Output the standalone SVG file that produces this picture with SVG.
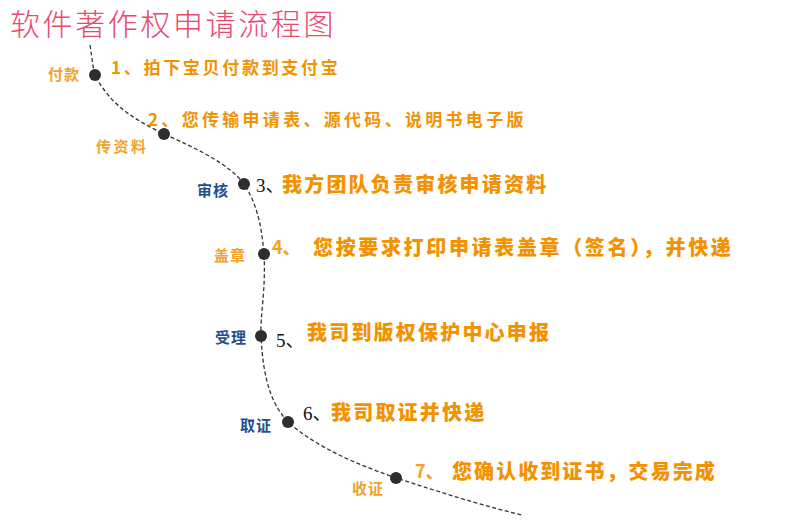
<svg xmlns="http://www.w3.org/2000/svg" width="790" height="520" viewBox="0 0 790 520">
<style>
.title{font-family:"Noto Sans CJK SC","Noto Sans",sans-serif;font-weight:300;font-size:30px;fill:#e84a6c;letter-spacing:2.6px}
.lo{font-family:"Noto Sans CJK SC",sans-serif;font-weight:700;font-size:15px;fill:#f2a22a;letter-spacing:1px}
.lb{font-family:"Noto Sans CJK SC",sans-serif;font-weight:700;font-size:15px;fill:#1f4f8e;letter-spacing:1px}
.s{font-family:"Noto Sans CJK SC",sans-serif;font-weight:700;font-size:17px;fill:#f39200;letter-spacing:2.9px}
.m{font-family:"Noto Sans CJK SC",sans-serif;font-weight:800;font-size:20px;fill:#f39200;letter-spacing:2.2px}
.n{font-family:"Liberation Serif","Noto Sans CJK SC",serif;font-size:19px;fill:#111}
.no{font-family:"Noto Sans CJK SC",sans-serif;font-weight:700;font-size:18px;fill:#f4a020}
.dot{fill:#2e2e2e}
.path{fill:none;stroke:#333;stroke-width:1.3;stroke-dasharray:4 2.5}
</style>
<rect width="790" height="520" fill="#fff"/>
<text class="title" x="10" y="35">软件著作权申请流程图</text>
<g id="connectors">
<path class="path" d="M90,45 C92,58 93,68 95,75 C110,105 135,120 164,134 C200,150 230,165 244,184 C258,205 262,230 264,254 C266,290 260,315 261,336 C263,380 272,405 288,422 C320,450 360,465 396,478 C440,492 480,505 522,515"/>
</g>
<g id="step1">
<circle class="dot" cx="95" cy="75" r="6"/>
<text class="lo" x="48" y="80">付款</text>
<text class="s" x="111" y="74" style="letter-spacing:2.7px">1、拍下宝贝付款到支付宝</text>
</g>
<g id="step2">
<circle class="dot" cx="164" cy="134" r="6"/>
<text class="lo" x="96" y="152" style="letter-spacing:2.5px">传资料</text>
<text class="s" x="148" y="126" style="letter-spacing:3.3px">2、您传输申请表、源代码、说明书电子版</text>
</g>
<g id="step3">
<circle class="dot" cx="244" cy="184" r="6"/>
<text class="lb" x="197" y="196">审核</text>
<text class="n" x="256" y="192">3、</text>
<text class="m" x="282" y="192">我方团队负责审核申请资料</text>
</g>
<g id="step4">
<circle class="dot" cx="264" cy="254" r="6"/>
<text class="lo" x="214" y="261">盖章</text>
<text class="no" x="272" y="254">4、</text>
<text class="m" x="313" y="255" textLength="420" lengthAdjust="spacing">您按要求打印申请表盖章（签名），并快递</text>
</g>
<g id="step5">
<circle class="dot" cx="261" cy="336" r="6"/>
<text class="lb" x="215" y="343">受理</text>
<text class="n" x="276" y="347">5、</text>
<text class="m" x="307" y="340">我司到版权保护中心申报</text>
</g>
<g id="step6">
<circle class="dot" cx="288" cy="422" r="6"/>
<text class="lb" x="240" y="431">取证</text>
<text class="n" x="303" y="420">6、</text>
<text class="m" x="331" y="420">我司取证并快递</text>
</g>
<g id="step7">
<circle class="dot" cx="396" cy="478" r="6"/>
<text class="lo" x="352" y="494">收证</text>
<text class="no" x="415" y="478">7、</text>
<text class="m" x="452" y="479" textLength="265" lengthAdjust="spacing">您确认收到证书，交易完成</text>
</g>
</svg>
